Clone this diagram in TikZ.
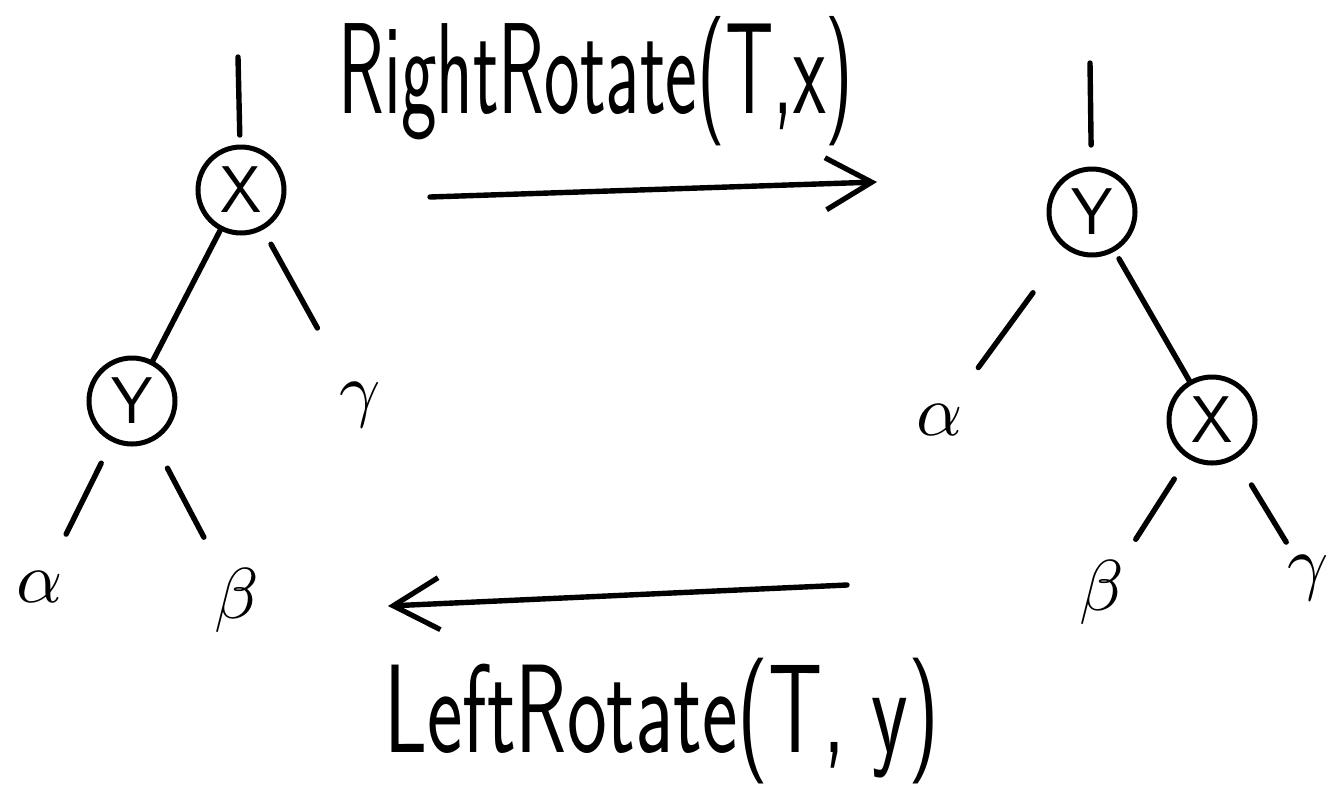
\documentclass[tikz,border=0pt]{standalone}
\usepackage{fontspec}
\usepackage{graphicx}
\usetikzlibrary{arrows.meta}
\begin{document}
\begin{tikzpicture}[x=0.5pt,y=-0.5pt,
  ink/.style={line width=2.7pt,line cap=round,line join=round},
  tnode/.style={circle,draw,line width=2.5pt,minimum size=43pt,inner sep=0pt,
    font=\fontsize{33}{35}\selectfont\sffamily},
  leaf/.style={inner sep=0pt},
  lbl/.style={inner sep=0pt,font=\fontsize{36}{40}\selectfont\sffamily},
  rot/.style={ink,-{Straight Barb[length=23pt,width=26pt,line width=2.6pt]}}]
\useasboundingbox (0,0) rectangle (1338,804);
% left tree
\coordinate (tL) at (238,57);
\node[tnode] (X1) at (241,190) {X};
\node[tnode] (Y1) at (132,401) {Y};
\node[leaf] (g1) at (360,405) {\scalebox{3.6}{$\gamma$}};
\node[leaf] (a1) at (40,587) {\scalebox{3.6}{$\alpha$}};
\node[leaf] (b1) at (237,600) {\scalebox{3.6}{$\beta$}};
\draw[ink,shorten >=27.5pt] (tL) -- (X1.center);
\draw[ink,shorten <=23pt,shorten >=22pt] (X1.center) -- (Y1.center);
\draw[ink,shorten <=31pt,shorten >=44pt] (X1.center) -- (g1.center);
\draw[ink,shorten <=34.7pt,shorten >=29.5pt] (Y1.center) -- (a1.center);
\draw[ink,shorten <=38pt,shorten >=35.5pt] (Y1.center) -- (b1.center);
% right tree
\coordinate (tR) at (1090,63);
\node[tnode] (Y2) at (1092,212) {Y};
\node[tnode] (X2) at (1212,420) {X};
\node[leaf] (a2) at (940,420) {\scalebox{3.6}{$\alpha$}};
\node[leaf] (b2) at (1102,592) {\scalebox{3.6}{$\beta$}};
\node[leaf] (g2) at (1308,578) {\scalebox{3.6}{$\gamma$}};
\draw[ink,shorten >=33.5pt] (tR) -- (Y2.center);
\draw[ink,shorten <=50pt,shorten >=32.5pt] (Y2.center) -- (a2.center);
\draw[ink,shorten <=27pt,shorten >=22.5pt] (Y2.center) -- (X2.center);
\draw[ink,shorten <=35pt,shorten >=31.3pt] (X2.center) -- (b2.center);
\draw[ink,shorten <=38pt,shorten >=21pt] (X2.center) -- (g2.center);
% rotation arrows
\coordinate (r1) at (430,197);
\coordinate (r2) at (877,182);
\coordinate (l1) at (847,585);
\coordinate (l2) at (388,606);
\draw[rot] (r1) -- (r2);
\draw[rot] (l1) -- (l2);
\node[lbl,anchor=base west] (rr) at (338,113) {\scalebox{1.05}[1.8]{RightRotate(T,x)}};
\node[lbl,anchor=base west] (lr) at (384,752) {\scalebox{1.175}[1.75]{LeftRotate(T, y)}};
\end{tikzpicture}
\end{document}
